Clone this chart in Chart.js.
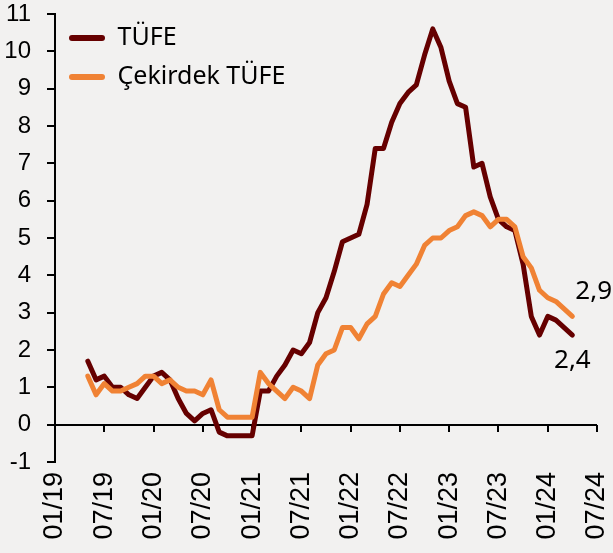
<!DOCTYPE html>
<html>
<head>
<meta charset="utf-8">
<script src="https://cdn.jsdelivr.net/npm/chart.js@4.4.0/dist/chart.umd.min.js"></script>
<style>
  html, body { margin: 0; padding: 0; background: #f2f1f0; }
  #wrap { width: 613px; height: 553px; }
</style>
</head>
<body>
<div id="wrap"><canvas id="myChart"></canvas></div>
<script>
// months Jan 2019 - Jul 2024 (values sit on month end, so Apr 19 lands on 05/19)
const months = [
  '01/19','02/19','03/19','04/19','05/19','06/19','07/19','08/19','09/19','10/19','11/19','12/19',
  '01/20','02/20','03/20','04/20','05/20','06/20','07/20','08/20','09/20','10/20','11/20','12/20',
  '01/21','02/21','03/21','04/21','05/21','06/21','07/21','08/21','09/21','10/21','11/21','12/21',
  '01/22','02/22','03/22','04/22','05/22','06/22','07/22','08/22','09/22','10/22','11/22','12/22',
  '01/23','02/23','03/23','04/23','05/23','06/23','07/23','08/23','09/23','10/23','11/23','12/23',
  '01/24','02/24','03/24','04/24','05/24','06/24','07/24'
];

const tufe = [
  null, null, null, null,
  1.7, 1.2, 1.3, 1.0, 1.0, 0.8, 0.7, 1.0, 1.3,
  1.4, 1.2, 0.7, 0.3, 0.1, 0.3, 0.4, -0.2, -0.3, -0.3, -0.3, -0.3,
  0.9, 0.9, 1.3, 1.6, 2.0, 1.9, 2.2, 3.0, 3.4, 4.1, 4.9, 5.0,
  5.1, 5.9, 7.4, 7.4, 8.1, 8.6, 8.9, 9.1, 9.9, 10.6, 10.1, 9.2,
  8.6, 8.5, 6.9, 7.0, 6.1, 5.5, 5.3, 5.2, 4.3, 2.9, 2.4, 2.9,
  2.8, 2.6, 2.4,
  null, null, null
];

const cekirdek = [
  null, null, null, null,
  1.3, 0.8, 1.1, 0.9, 0.9, 1.0, 1.1, 1.3, 1.3,
  1.1, 1.2, 1.0, 0.9, 0.9, 0.8, 1.2, 0.4, 0.2, 0.2, 0.2, 0.2,
  1.4, 1.1, 0.9, 0.7, 1.0, 0.9, 0.7, 1.6, 1.9, 2.0, 2.6, 2.6,
  2.3, 2.7, 2.9, 3.5, 3.8, 3.7, 4.0, 4.3, 4.8, 5.0, 5.0, 5.2,
  5.3, 5.6, 5.7, 5.6, 5.3, 5.5, 5.5, 5.3, 4.5, 4.2, 3.6, 3.4,
  3.3, 3.1, 2.9,
  null, null, null
];

const endLabels = ['2,4', '2,9'];

const darkRed = 'rgb(102, 0, 0)';
const orange = 'rgb(240, 130, 52)';

// last values written next to the line ends
const endLabelPlugin = {
  id: 'endLabels',
  afterDatasetsDraw(chart) {
    const c = chart.ctx;
    c.save();
    c.font = '26px "Noto Sans"';
    c.fillStyle = '#000';
    c.textBaseline = 'middle';
    chart.data.datasets.forEach((ds, i) => {
      let last = ds.data.length - 1;
      while (last > 0 && ds.data[last] === null) last--;
      const pt = chart.getDatasetMeta(i).data[last];
      if (i === 0) {
        c.textAlign = 'center';
        c.fillText(endLabels[0], pt.x, pt.y + 26);
      } else {
        c.textAlign = 'left';
        c.fillText(endLabels[1], pt.x + 3, pt.y - 25);
      }
    });
    c.restore();
  }
};

// zero line with a tick every 6 months, drawn from the scales
const zeroLinePlugin = {
  id: 'zeroLine',
  beforeDatasetsDraw(chart) {
    const c = chart.ctx;
    const xs = chart.scales.x;
    const y0 = Math.round(chart.scales.y.getPixelForValue(0));
    c.save();
    c.strokeStyle = '#000';
    c.lineWidth = 2;
    c.beginPath();
    c.moveTo(chart.chartArea.left, y0);
    c.lineTo(chart.chartArea.right, y0);
    for (let i = 0; i < months.length; i += 6) {
      const x = Math.round(xs.getPixelForValue(i));
      c.moveTo(x, y0);
      c.lineTo(x, y0 + 7);
    }
    c.stroke();
    c.restore();
  }
};

const ctxm = document.getElementById('myChart');

new Chart(ctxm, {
  type: 'line',
  data: {
    labels: months,
    datasets: [{
      label: 'TÜFE',
      data: tufe,
      borderColor: darkRed,
      backgroundColor: darkRed,
      borderWidth: 5,
      borderJoinStyle: 'round',
      borderCapStyle: 'round',
      pointRadius: 0,
      order: 1
    }, {
      label: 'Çekirdek TÜFE',
      data: cekirdek,
      borderColor: orange,
      backgroundColor: orange,
      borderWidth: 5,
      borderJoinStyle: 'round',
      borderCapStyle: 'round',
      pointRadius: 0,
      order: 0
    }]
  },
  options: {
    responsive: true,
    maintainAspectRatio: false,
    animation: false,
    layout: { padding: { left: 5, right: 16, top: 14, bottom: 13 } },
    plugins: {
      tooltip: { enabled: false },
      legend: {
        position: 'chartArea',
        align: 'start',
        // empty title only pushes the items down a bit
        title: { display: true, text: '', padding: 0, font: { size: 11.5, lineHeight: 1 } },
        labels: {
          boxWidth: 36,
          boxHeight: 6,
          padding: 14,
          color: '#000',
          useBorderRadius: true,
          borderRadius: 3,
          font: { family: 'Noto Sans', size: 25 },
          sort: (a, b) => a.datasetIndex - b.datasetIndex,
          generateLabels: (chart) => {
            const items = Chart.defaults.plugins.legend.labels.generateLabels(chart);
            items.forEach(it => { it.lineWidth = 0; });
            return items;
          }
        }
      }
    },
    scales: {
      x: {
        position: 'bottom',
        grid: { display: false, drawTicks: false },
        border: { display: false },
        afterFit: (scale) => {
          scale.height = 78;
          scale.paddingLeft = 0;
          scale.paddingRight = 0;
        },
        ticks: {
          autoSkip: false,
          minRotation: 90,
          maxRotation: 90,
          padding: 10,
          color: '#000',
          font: { family: 'Liberation Sans', size: 27 },
          callback: (v, i) => (i % 6 === 0 ? months[i] : '')
        }
      },
      y: {
        min: -1,
        max: 11,
        afterFit: (scale) => {
          scale.width = 50;
          scale.paddingTop = 0;
          scale.paddingBottom = 0;
        },
        grid: {
          drawOnChartArea: false,
          color: '#000',
          lineWidth: 2,
          tickLength: 8
        },
        border: { display: true, color: '#000', width: 2 },
        ticks: {
          stepSize: 1,
          padding: 16,
          color: '#000',
          font: { family: 'Liberation Sans', size: 24 }
        }
      }
    }
  },
  plugins: [endLabelPlugin, zeroLinePlugin]
});
</script>
</body>
</html>
